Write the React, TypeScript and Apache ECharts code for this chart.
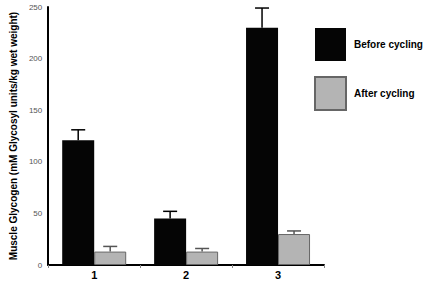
import React, { useEffect, useRef } from "react";
import * as echarts from "echarts";

const categories = ["1", "2", "3"];
const beforeValues = [121, 45, 230];
const beforeErrors = [10, 7, 19];
const afterValues = [13, 13, 30];
const afterErrors = [5, 3, 3];
const yTicks = { min: 0, max: 250, interval: 50 };

export default function App() {
  const ref = useRef<HTMLDivElement>(null);
  useEffect(() => {
    if (!ref.current) return;
    const chart = echarts.init(ref.current, undefined, { renderer: "svg" });
    const barW = 32;
    const errSeries = (name: string, vals: number[], errs: number[], offset: number, color: string) => ({
      type: "custom",
      name,
      z: 5,
      silent: true,
      data: vals.map((v, i) => [i, v, v + errs[i]]),
      renderItem: (_params: any, api: any) => {
        const i = api.value(0);
        const base = api.coord([i, api.value(1)]);
        const top = api.coord([i, api.value(2)]);
        const x = base[0] + offset;
        return {
          type: "group",
          children: [
            { type: "line", shape: { x1: x, y1: base[1], x2: x, y2: top[1] }, style: { stroke: color, lineWidth: 1.5 } },
            { type: "line", shape: { x1: x - 7, y1: top[1], x2: x + 7, y2: top[1] }, style: { stroke: color, lineWidth: 1.5 } },
          ],
        };
      },
    });
    chart.setOption({
      animation: false,
      textStyle: { fontFamily: "Liberation Sans, Arial, sans-serif" },
      grid: { left: 38, right: 103, top: 7, bottom: 16, containLabel: false },
      legend: {
        orient: "vertical",
        left: 309,
        top: 23,
        itemWidth: 31,
        itemHeight: 33,
        itemGap: 15,
        data: [
          { name: "Before cycling", icon: "rect" },
          { name: "After cycling", icon: "rect" },
        ],
        textStyle: { fontSize: 10, color: "#000", fontWeight: "bold", padding: [0, 0, 0, 3] },
      },
      xAxis: {
        type: "category",
        data: categories,
        axisLine: { lineStyle: { color: "#000", width: 2 } },
        axisTick: { show: true, length: 3, lineStyle: { color: "#888" } },
        axisLabel: { fontSize: 11, color: "#000", margin: 4, fontWeight: "bold" },
      },
      yAxis: {
        type: "value",
        min: yTicks.min,
        max: yTicks.max,
        interval: yTicks.interval,
        name: "Muscle Glycogen (mM Glycosyl units/kg wet weight)",
        nameLocation: "middle",
        nameRotate: 90,
        nameGap: 29,
        nameTextStyle: { fontSize: 10, color: "#000", fontWeight: "bold" },
        axisLine: { show: true, lineStyle: { color: "#000", width: 2 } },
        axisTick: { show: false },
        splitLine: { show: false },
        axisLabel: { fontSize: 8, color: "#555", margin: 6 },
      },
      series: [
        {
          name: "Before cycling",
          type: "bar",
          data: beforeValues,
          barWidth: barW,
          barGap: "0%",
          itemStyle: { color: "#050505" },
        },
        {
          name: "After cycling",
          type: "bar",
          data: afterValues,
          barWidth: barW,
          barGap: "0%",
          itemStyle: { color: "#b4b4b4", borderColor: "#666", borderWidth: 1 },
        },
        errSeries("errBefore", beforeValues, beforeErrors, -barW / 2, "#000"),
        errSeries("errAfter", afterValues, afterErrors, barW / 2, "#555"),
      ],
    });
    return () => chart.dispose();
  }, []);
  return <div ref={ref} style={{ width: 427, height: 281, position: "absolute", left: 0, top: 0, background: "#fff" }} />;
}
